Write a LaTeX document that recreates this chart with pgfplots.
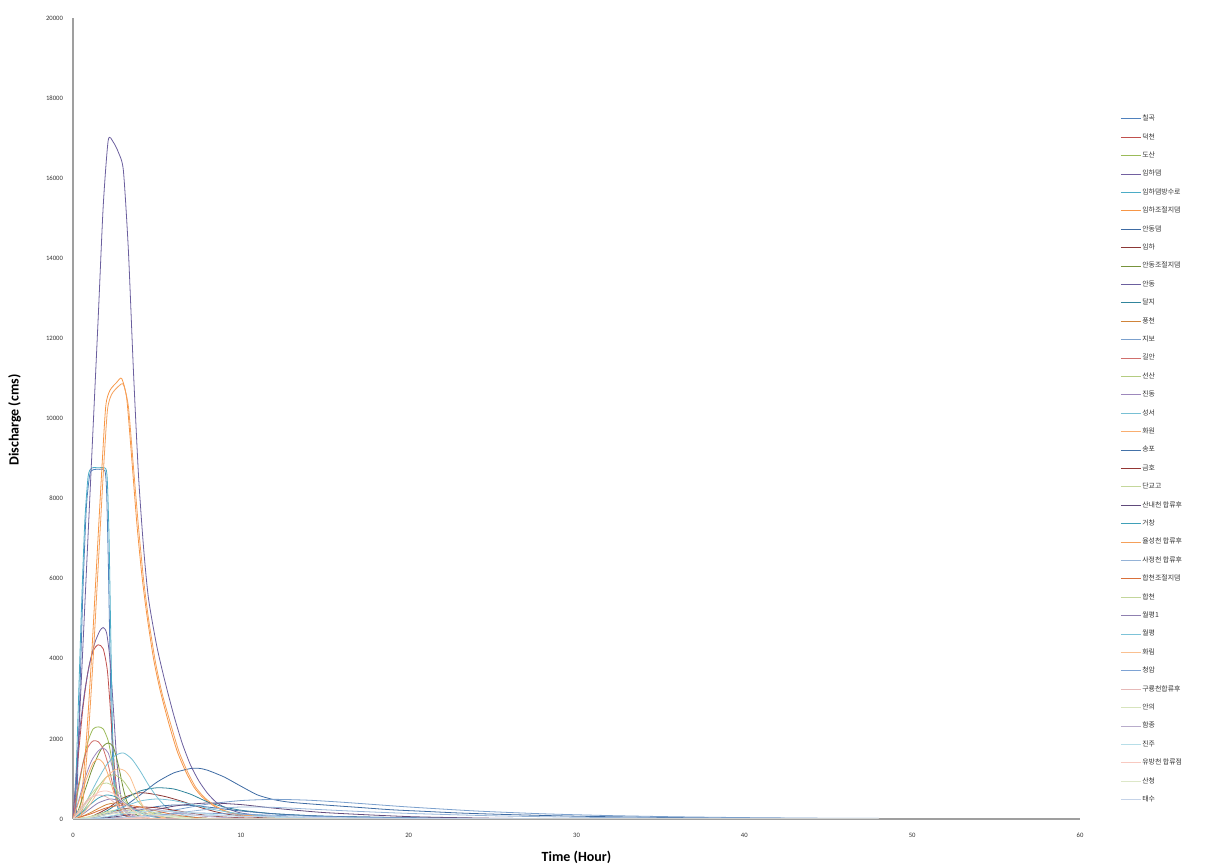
\documentclass[border=0pt]{standalone}
\usepackage{pgfplots}
\pgfplotsset{compat=1.18}
\usepackage{fontspec}
\setmainfont{Carlito}
\newfontfamily\cjk{Noto Sans CJK KR}
\definecolor{c1}{HTML}{4F81BD}\definecolor{c2}{HTML}{C0504D}\definecolor{c3}{HTML}{9BBB59}
\definecolor{c4}{HTML}{7260A0}\definecolor{c5}{HTML}{4BACC6}\definecolor{c6}{HTML}{F79646}
\definecolor{c7}{HTML}{3E6BA3}\definecolor{c8}{HTML}{8C3836}\definecolor{c9}{HTML}{77933C}
\definecolor{c10}{HTML}{6B5F9E}\definecolor{c11}{HTML}{31859C}\definecolor{c12}{HTML}{D0843A}
\definecolor{c13}{HTML}{7BA0CD}\definecolor{c14}{HTML}{D06F6C}\definecolor{c15}{HTML}{B4CC81}
\definecolor{c16}{HTML}{9D88BC}\definecolor{c17}{HTML}{78C0D4}\definecolor{c18}{HTML}{F9AE70}
\definecolor{c19}{HTML}{4472A8}\definecolor{c20}{HTML}{943634}\definecolor{c21}{HTML}{C4D79B}
\definecolor{c22}{HTML}{604A7B}\definecolor{c23}{HTML}{3FA0B8}\definecolor{c24}{HTML}{F5A05A}
\definecolor{c25}{HTML}{95B3D7}\definecolor{c26}{HTML}{D9703A}\definecolor{c27}{HTML}{C3D69B}
\definecolor{c28}{HTML}{8F80B0}\definecolor{c29}{HTML}{7DC3D8}\definecolor{c30}{HTML}{FAC090}
\definecolor{c31}{HTML}{7EA3D4}\definecolor{c32}{HTML}{E6B9B8}\definecolor{c33}{HTML}{D7E4BD}
\definecolor{c34}{HTML}{B8ACCB}\definecolor{c35}{HTML}{B7DEE8}\definecolor{c36}{HTML}{F8C9C0}
\definecolor{c37}{HTML}{DDE7C8}\definecolor{c38}{HTML}{C5D3E8}
\begin{document}
\begin{tikzpicture}
\useasboundingbox (-54.75pt,-36pt) rectangle (858pt,614.25pt);
\begin{axis}[
  at={(0,0)}, anchor=south west,
  scale only axis, width=755.25pt, height=600.75pt,
  xmin=0, xmax=60, ymin=0, ymax=20000,
  xtick={0,10,...,60}, ytick={0,2000,...,20000},
  scaled ticks=false,
  /pgf/number format/1000 sep={},
  /pgf/number format/assume math mode=true,
  axis lines*=left,
  axis line style={draw=gray!75, line width=0.8pt},
  major tick length=0pt,
  tick label style={font=\fontsize{5}{6}\selectfont, text=black!80},
  yticklabel style={xshift=-4pt},
  xticklabel style={yshift=-7pt},
  xlabel={Time (Hour)}, ylabel={Discharge (cms)},
  label style={font=\bfseries\fontsize{10.5}{12}\selectfont},
  xlabel style={at={(axis description cs:0.5,-0.0474)}, anchor=center},
  ylabel style={at={(axis description cs:-0.058,0.498)}, anchor=center, rotate=0},
  legend cell align=left,
  legend style={draw=none, fill=none, at={(1.036,0.883)}, anchor=north west,
    font=\cjk\fontsize{5.2}{6}\selectfont, text=black!80,
    nodes={inner sep=0.6pt, text height=4pt, text depth=1pt},
    row sep=7.6pt},
  legend image code/.code={\draw[#1, line width=0.7pt] (0pt,0pt) -- (15pt,0pt);},
  every axis plot/.append style={line width=0.6pt, smooth, tension=0.4},
]
\addplot[c1] coordinates {(0,0)(0.2,150)(0.4,3000)(0.6,5800)(0.8,7800)(1.0,8600)(1.2,8720)(1.6,8730)(1.9,8700)(2.0,8200)(2.1,6500)(2.2,4200)(2.3,2200)(2.45,800)(2.7,250)(3,100)(4,30)(6,0)(48,0)};
\addlegendentry{칠곡}
\addplot[c2] coordinates {(0,0)(0.3,1500)(0.6,2800)(0.9,3700)(1.2,4200)(1.5,4350)(1.8,4250)(2.05,3700)(2.25,2600)(2.45,1400)(2.65,550)(2.9,180)(3.5,40)(5,0)(48,0)};
\addlegendentry{덕천}
\addplot[c3] coordinates {(0,0)(0.3,700)(0.6,1400)(0.9,1950)(1.2,2250)(1.5,2300)(1.8,2250)(2.1,1950)(2.3,1500)(2.5,900)(2.7,400)(3.0,120)(3.5,30)(5,0)(48,0)};
\addlegendentry{도산}
\addplot[c4] coordinates {(0,0)(0.2,1200)(0.4,2200)(0.7,3200)(1.0,3900)(1.3,4400)(1.6,4700)(1.8,4780)(2.0,4650)(2.2,4000)(2.4,2800)(2.6,1500)(2.8,700)(3.0,300)(3.5,100)(4.5,20)(6,0)(48,0)};
\addlegendentry{임하댐}
\addplot[c5] coordinates {(0,0)(0.1,100)(0.3,2600)(0.5,5200)(0.7,7400)(0.9,8550)(1.1,8760)(1.5,8770)(1.95,8750)(2.05,8400)(2.15,7000)(2.25,4600)(2.35,2300)(2.5,800)(2.7,250)(3,90)(4,20)(6,0)(48,0)};
\addlegendentry{임하댐방수로}
\addplot[c6] coordinates {(0,0)(0.4,100)(0.8,2000)(1.1,4000)(1.4,6300)(1.7,8600)(1.95,10300)(2.2,10700)(2.6,10900)(2.9,11000)(3.2,10500)(3.5,9000)(3.8,7400)(4.1,6100)(4.4,5100)(4.8,4000)(5.2,3200)(5.7,2400)(6.2,1700)(6.7,1200)(7.2,800)(7.7,550)(8.3,350)(9,200)(10,100)(12,40)(15,10)(20,0)(48,0)};
\addlegendentry{임하조절지댐}
\addplot[c7] coordinates {(0,0)(1,20)(2,120)(3,300)(4,600)(5,920)(6,1150)(7,1260)(7.5,1265)(8,1220)(9,1050)(10,820)(11,600)(12,480)(13,415)(15,350)(17,290)(19,230)(21,190)(23,150)(26,110)(30,70)(35,40)(40,20)(48,5)};
\addlegendentry{안동댐}
\addplot[c8] coordinates {(0,0)(1,50)(2,250)(3,530)(3.9,650)(4.5,640)(5.5,560)(6.5,440)(7.5,300)(8.5,180)(9.5,100)(11,40)(13,10)(15,0)(48,0)};
\addlegendentry{임하}
\addplot[c9] coordinates {(0,0)(0.3,200)(0.7,700)(1.1,1200)(1.5,1600)(1.8,1820)(2.1,1900)(2.4,1800)(2.7,1350)(3.0,750)(3.2,450)(3.5,200)(4.0,60)(5,0)(48,0)};
\addlegendentry{안동조절지댐}
\addplot[c10] coordinates {(0,0)(0.1,50)(0.5,3500)(1.0,8000)(1.5,12500)(1.8,15300)(2.1,16950)(2.4,16900)(2.7,16650)(3.0,16200)(3.3,14200)(3.6,11200)(3.9,8600)(4.2,6800)(4.5,5500)(5.0,4300)(5.5,3400)(6.0,2600)(6.5,1900)(7.0,1350)(7.5,950)(8.0,650)(8.5,430)(9,300)(10,150)(12,60)(15,25)(20,8)(30,0)(48,0)};
\addlegendentry{안동}
\addplot[c11] coordinates {(0,0)(1,30)(2,200)(3,480)(4,700)(5,780)(6,750)(7,620)(8,430)(9,300)(10,220)(12,130)(15,70)(20,30)(25,10)(30,0)(48,0)};
\addlegendentry{달지}
\addplot[c12] coordinates {(0,0)(0.5,60)(1,150)(1.5,260)(2,360)(2.5,400)(3,380)(3.5,300)(4,200)(4.5,120)(5,60)(6,20)(8,0)(48,0)};
\addlegendentry{풍천}
\addplot[c13] coordinates {(0,0)(2,10)(4,80)(6,220)(8,370)(10,460)(12,490)(14,470)(16,420)(18,360)(20,300)(24,200)(28,130)(32,85)(36,55)(40,35)(44,22)(48,15)};
\addlegendentry{지보}
\addplot[c14] coordinates {(0,0)(0.3,800)(0.6,1400)(0.9,1800)(1.2,1950)(1.5,1930)(1.8,1750)(2.1,1350)(2.4,800)(2.7,350)(3.0,120)(3.5,30)(5,0)(48,0)};
\addlegendentry{길안}
\addplot[c15] coordinates {(0,0)(0.5,150)(1.0,450)(1.5,800)(2.0,1050)(2.5,1100)(3.0,950)(3.5,650)(4.0,380)(4.5,200)(5,90)(6,20)(7,0)(48,0)};
\addlegendentry{선산}
\addplot[c16] coordinates {(0,0)(0.3,400)(0.7,1000)(1.1,1450)(1.5,1700)(1.8,1770)(2.1,1650)(2.4,1200)(2.7,600)(3.0,250)(3.5,60)(5,0)(48,0)};
\addlegendentry{진동}
\addplot[c17] coordinates {(0,0)(0.5,200)(1.0,600)(1.5,1000)(2.0,1350)(2.5,1580)(3.0,1650)(3.5,1500)(4.0,1200)(4.5,850)(5.0,550)(5.5,320)(6.0,180)(7,60)(8,20)(10,0)(48,0)};
\addlegendentry{성서}
\addplot[c18] coordinates {(0,0)(0.4,500)(0.8,1000)(1.2,1400)(1.5,1500)(1.8,1400)(2.1,1100)(2.4,700)(2.7,350)(3.0,150)(3.5,40)(4.5,0)(48,0)};
\addlegendentry{화원}
\addplot[c19] coordinates {(0,0)(1,10)(2,50)(3,130)(4,230)(5,310)(6,350)(7,340)(8,300)(9,250)(10,200)(12,130)(15,70)(20,30)(25,10)(30,0)(48,0)};
\addlegendentry{송포}
\addplot[c20] coordinates {(0,0)(1,40)(2,140)(3,250)(4,300)(5,280)(6,220)(7,150)(8,90)(9,50)(11,15)(13,0)(48,0)};
\addlegendentry{금호}
\addplot[c21] coordinates {(0,0)(1,60)(2,180)(3,250)(4,220)(5,150)(6,80)(7,40)(8,15)(10,0)(48,0)};
\addlegendentry{단교고}
\addplot[c22] coordinates {(0,0)(2,30)(4,150)(6,320)(8,400)(10,360)(12,270)(15,160)(20,60)(25,20)(30,5)(35,0)(48,0)};
\addlegendentry{산내천 합류후}
\addplot[c23] coordinates {(0,0)(0.5,150)(1,350)(1.5,520)(2,600)(2.5,560)(3,430)(3.5,280)(4,160)(4.5,80)(5,40)(6,10)(7,0)(48,0)};
\addlegendentry{거창}
\addplot[c24] coordinates {(0,0)(0.5,100)(0.9,2000)(1.2,4000)(1.5,6300)(1.8,8600)(2.05,10200)(2.3,10600)(2.7,10800)(3.0,10850)(3.3,10300)(3.6,8800)(3.9,7300)(4.2,6000)(4.5,5000)(4.9,3950)(5.3,3150)(5.8,2400)(6.3,1700)(6.8,1200)(7.3,800)(7.8,550)(8.4,350)(9.1,200)(10,110)(12,45)(15,12)(20,0)(48,0)};
\addlegendentry{율성천 합류후}
\addplot[c25] coordinates {(0,0)(2,10)(4,50)(6,140)(8,240)(10,300)(12,290)(14,250)(17,190)(20,140)(25,80)(30,45)(35,25)(40,12)(48,5)};
\addlegendentry{사정천 합류후}
\addplot[c26] coordinates {(0,0)(1,120)(2,280)(3,350)(4,300)(5,200)(6,110)(7,50)(8,20)(10,0)(48,0)};
\addlegendentry{합천조절지댐}
\addplot[c27] coordinates {(0,0)(0.4,200)(0.8,450)(1.2,680)(1.6,850)(2.0,900)(2.4,820)(2.8,620)(3.2,400)(3.6,220)(4.0,110)(4.5,40)(5.5,0)(48,0)};
\addlegendentry{합천}
\addplot[c28] coordinates {(0,0)(0.5,100)(1,250)(1.5,400)(2.2,500)(2.8,450)(3.4,320)(4,190)(4.6,100)(5.2,45)(6,15)(7,0)(48,0)};
\addlegendentry{월평1}
\addplot[c29] coordinates {(0,0)(1,30)(2,130)(3,300)(4,450)(5,500)(6,460)(7,370)(8,270)(9,190)(10,130)(12,60)(15,20)(20,0)(48,0)};
\addlegendentry{월평}
\addplot[c30] coordinates {(0,0)(0.5,100)(1.0,350)(1.5,700)(2.0,1050)(2.5,1230)(2.8,1250)(3.1,1200)(3.4,1050)(3.7,750)(4.0,450)(4.3,250)(4.7,120)(5.5,30)(7,0)(48,0)};
\addlegendentry{화림}
\addplot[c31] coordinates {(0,0)(2,10)(4,60)(6,130)(7,150)(8,145)(10,120)(13,80)(16,50)(20,25)(25,10)(30,0)(48,0)};
\addlegendentry{청암}
\addplot[c32] coordinates {(0,0)(0.5,300)(1.0,520)(1.5,600)(2.0,550)(2.5,400)(3.0,230)(3.5,110)(4.0,40)(5,0)(48,0)};
\addlegendentry{구룡천합류후}
\addplot[c33] coordinates {(0,0)(1,50)(2,150)(3,200)(4,170)(5,110)(6,60)(7,25)(8,10)(10,0)(48,0)};
\addlegendentry{안의}
\addplot[c34] coordinates {(0,0)(1,30)(2,110)(3,200)(4,250)(5,230)(6,170)(7,110)(8,60)(10,20)(12,0)(48,0)};
\addlegendentry{함종}
\addplot[c35] coordinates {(0,0)(1,15)(2,60)(3,130)(4,180)(5,200)(6,190)(7,160)(8,120)(10,70)(13,30)(16,10)(20,0)(48,0)};
\addlegendentry{진주}
\addplot[c36] coordinates {(0,0)(0.4,180)(0.8,400)(1.2,580)(1.6,680)(2.0,700)(2.4,640)(2.8,500)(3.2,340)(3.6,200)(4.0,100)(4.5,40)(5.5,0)(48,0)};
\addlegendentry{유방천 합류점}
\addplot[c37] coordinates {(0,0)(1,40)(2,110)(3,150)(4,130)(5,90)(6,50)(7,20)(9,0)(48,0)};
\addlegendentry{산청}
\addplot[c38] coordinates {(0,0)(2,10)(4,60)(6,100)(8,90)(10,70)(14,40)(18,20)(24,8)(30,0)(48,0)};
\addlegendentry{태수}
\end{axis}
\end{tikzpicture}
\end{document}
